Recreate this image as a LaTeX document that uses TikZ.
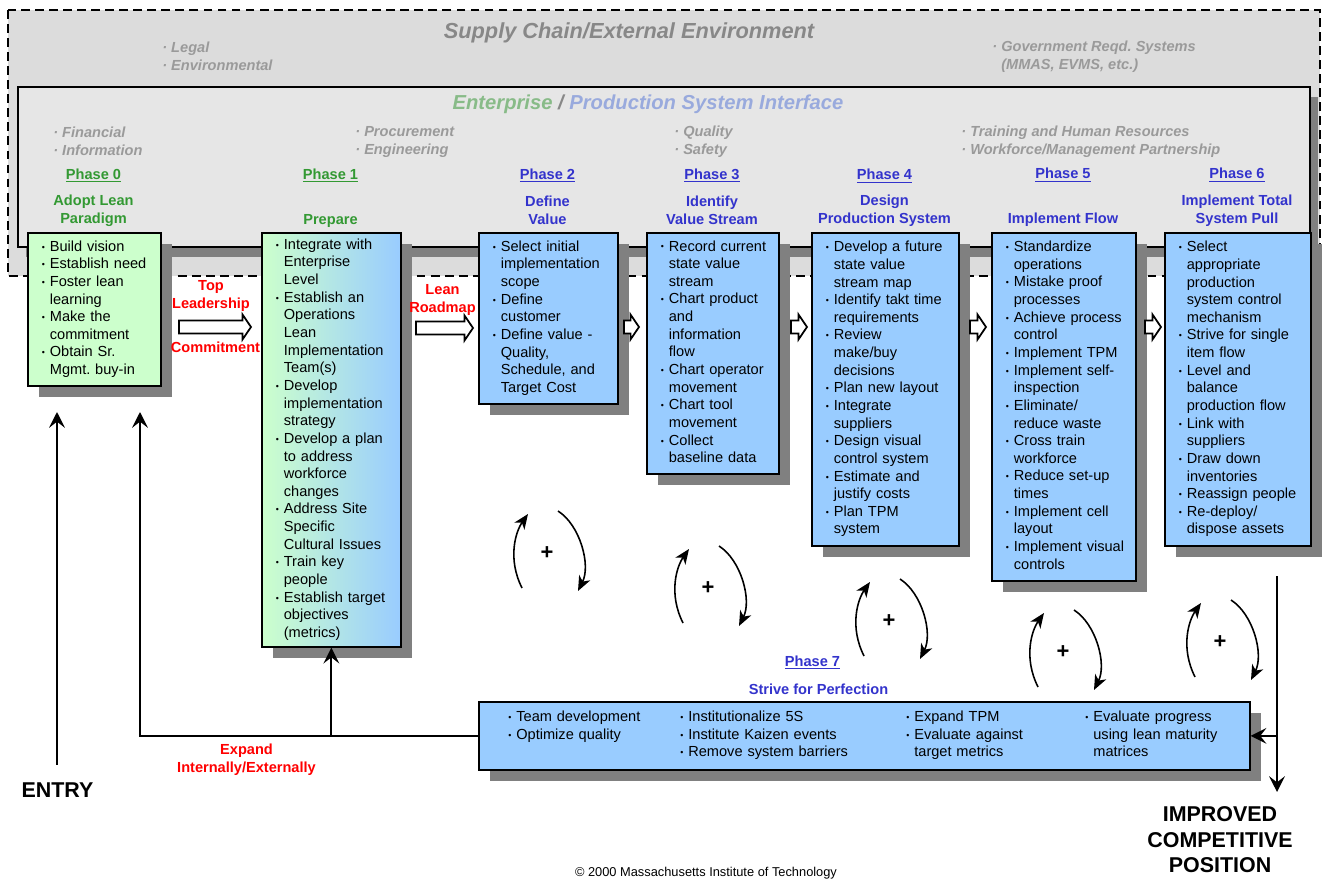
\documentclass[tikz,border=0pt]{standalone}
\usepackage{fontspec}
\setmainfont{Liberation Sans}
\usetikzlibrary{arrows.meta, calc, shadows}
\frenchspacing

\definecolor{boxblue}{HTML}{99CCFF}
\definecolor{boxgreen}{HTML}{CCFFCC}
\definecolor{shadegray}{HTML}{808080}
\definecolor{outergray}{HTML}{DCDCDC}
\definecolor{innergray}{HTML}{E6E6E6}
\definecolor{phgreen}{HTML}{339933}
\definecolor{phblue}{HTML}{3333CC}
\definecolor{envgray}{HTML}{9A9A9A}
\definecolor{titlegray}{HTML}{888888}
\definecolor{entgreen}{HTML}{88BB88}
\definecolor{prodblue}{HTML}{99AADD}

% one bullet line, continuation lines split with \\
\newcommand{\bitem}[1]{\noindent\makebox[0.36cm][l]{\hspace{0.2cm}\raisebox{0.6pt}{\fontsize{5}{5}\selectfont•}}\begin{tabular}[t]{@{}l@{}}#1\end{tabular}\par}

\newcommand{\hollowarrow}[3]{%
	\draw[line width=1pt, fill=white] (#1,#3-6.5) -- (#2-8.5,#3-6.5) -- (#2-8.5,#3-12.5) -- (#2,#3)
	-- (#2-8.5,#3+12.5) -- (#2-8.5,#3+6.5) -- (#1,#3+6.5) -- cycle;}

\newcommand{\loopplus}[3]{%
	\node[plussign] (#1) at (#2,#3) {+};
	\draw[cycarrow] ($(#1)+(-25,35)$) .. controls ($(#1)+(-40,5)$) and ($(#1)+(-31,-22)$) .. ($(#1)+(-19,-39)$);
	\draw[cycarrow] ($(#1)+(11,-42)$) .. controls ($(#1)+(33,-28)$) and ($(#1)+(44,12)$) .. ($(#1)+(31,38)$);}

\begin{document}
\begin{tikzpicture}[x=0.02cm, y=-0.02cm,
	every node/.style={inner sep=0pt},
	phasebox/.style={draw, line width=1pt, anchor=north west, align=left, inner xsep=0.08cm,
		fill=boxblue, font=\fontsize{8.3}{10.04}\selectfont\setlength\lineskip{0pt},
		drop shadow={fill=shadegray, opacity=1, shadow xshift=0.22cm, shadow yshift=-0.22cm}},
	coltxt/.style={anchor=north west, align=left, text width=3.6cm,
		font=\fontsize{8.3}{10.04}\selectfont\setlength\lineskip{0pt}},
	phasehd/.style={anchor=base, text=phblue, font=\fontsize{8.3}{10}\selectfont\bfseries},
	ttl/.style={align=center, text=phblue, font=\fontsize{8.3}{10.04}\selectfont\bfseries},
	envtxt/.style={anchor=west, align=left, text=envgray, font=\fontsize{8.3}{10.04}\selectfont\bfseries\itshape},
	headline/.style={anchor=base, font=\fontsize{12.4}{14}\selectfont\bfseries\itshape},
	redlbl/.style={align=center, text=red, font=\fontsize{8.3}{10.04}\selectfont\bfseries},
	bigtxt/.style={align=center, font=\fontsize{12.2}{14.6}\selectfont\bfseries},
	arr/.style={line width=1pt, -{Stealth[length=9pt, width=9pt, inset=3.5pt]}},
	cycarrow/.style={line width=0.9pt, -{Stealth[length=8.5pt, width=7pt, inset=2.5pt]}},
	plussign/.style={font=\fontsize{12.5}{12}\selectfont\bfseries}]
	
	\useasboundingbox (0,0) rectangle (1323,882);
	
	% environment frames
	\draw[line width=1pt, dash pattern=on 5pt off 3pt, fill=outergray] (8,10) rectangle (1320,276);
	\fill[shadegray] (26,97) rectangle (1318,257);
	\draw[line width=1pt, fill=innergray] (18,87) rectangle (1310,247);
	
	\node[headline, text=titlegray] (supply) at (629,38.5) {Supply Chain/External Environment};
	\node[headline, font=\fontsize{11.5}{14}\selectfont\bfseries\itshape] (ent) at (648,109.3) {\textcolor{entgreen}{Enterprise} \textcolor{titlegray}{/} \textcolor{prodblue}{Production System Interface}};
	
	\node[envtxt] (legal) at (162,56) {· Legal\\· Environmental};
	\node[envtxt] (gov) at (992,57) {· Government Reqd. Systems\\\phantom{·}\ (MMAS, EVMS, etc.)};
	\node[envtxt] (fin) at (53,141) {· Financial\\· Information};
	\node[envtxt] (proc) at (355,142) {· Procurement\\· Engineering};
	\node[envtxt] (qual) at (674,142) {· Quality\\· Safety};
	\node[envtxt] (train) at (961,142) {· Training and Human Resources\\· Workforce/Management Partnership};
	
	% phase headings
	\node[phasehd, text=phgreen] (h0) at (93.5,179) {\underline{Phase 0}};
	\node[phasehd, text=phgreen] (h1) at (330.5,179) {\underline{Phase 1}};
	\node[phasehd] (h2) at (547.5,179) {\underline{Phase 2}};
	\node[phasehd] (h3) at (712,179) {\underline{Phase 3}};
	\node[phasehd] (h4) at (884.5,180) {\underline{Phase 4}};
	\node[phasehd] (h5) at (1063,178.5) {\underline{Phase 5}};
	\node[phasehd] (h6) at (1237,178.5) {\underline{Phase 6}};
	
	\node[ttl, text=phgreen] (t0) at (93.5,211) {Adopt Lean\\Paradigm};
	\node[ttl, text=phgreen, anchor=base] (t1) at (330.5,224) {Prepare};
	\node[ttl] (t2) at (547.5,210.5) {Define\\Value};
	\node[ttl] (t3) at (712,210.5) {Identify\\Value Stream};
	\node[ttl] (t4) at (884.5,211) {Design\\Production System};
	\node[ttl, anchor=base] (t5) at (1063,223) {Implement Flow};
	\node[ttl] (t6) at (1237,210.5) {Implement Total\\System Pull};
	
	% phase boxes
	\node[phasebox, fill=boxgreen, text width=2.50cm, minimum height=3.06cm] (p0) at (27,232) {%
		\bitem{Build vision}
		\bitem{Establish need}
		\bitem{Foster lean\\learning}
		\bitem{Make the\\commitment}
		\bitem{Obtain Sr.\\Mgmt. buy-in}};
	\node[phasebox, left color=boxgreen, right color=boxblue, text width=2.62cm, minimum height=8.28cm] (p1) at (261,232) {%
		\bitem{Integrate with\\Enterprise\\Level}
		\bitem{Establish an\\Operations\\Lean\\Implementation\\Team(s)}
		\bitem{Develop\\implementation\\strategy}
		\bitem{Develop a plan\\to address\\workforce\\changes}
		\bitem{Address Site\\Specific\\Cultural Issues}
		\bitem{Train key\\people}
		\bitem{Establish target\\objectives\\(metrics)}};
	\node[phasebox, text width=2.62cm, minimum height=3.42cm] (p2) at (478,232) {%
		\bitem{Select initial\\implementation\\scope}
		\bitem{Define\\customer}
		\bitem{Define value -\\Quality,\\Schedule, and\\Target Cost}};
	\node[phasebox, text width=2.48cm, minimum height=4.82cm] (p3) at (646,232) {%
		\bitem{Record current\\state value\\stream}
		\bitem{Chart product\\and\\information\\flow}
		\bitem{Chart operator\\movement}
		\bitem{Chart tool\\movement}
		\bitem{Collect\\baseline data}};
	\node[phasebox, text width=2.78cm, minimum height=6.26cm] (p4) at (811,232) {%
		\bitem{Develop a future\\state value\\stream map}
		\bitem{Identify takt time\\requirements}
		\bitem{Review\\make/buy\\decisions}
		\bitem{Plan new layout}
		\bitem{Integrate\\suppliers}
		\bitem{Design visual\\control system}
		\bitem{Estimate and\\justify costs}
		\bitem{Plan TPM\\system}};
	\node[phasebox, text width=2.72cm, minimum height=6.96cm] (p5) at (991,232) {%
		\bitem{Standardize\\operations}
		\bitem{Mistake proof\\processes}
		\bitem{Achieve process\\control}
		\bitem{Implement TPM}
		\bitem{Implement self-\\inspection}
		\bitem{Eliminate/\\reduce waste}
		\bitem{Cross train\\workforce}
		\bitem{Reduce set-up\\times}
		\bitem{Implement cell\\layout}
		\bitem{Implement visual\\controls}};
	\node[phasebox, text width=2.76cm, minimum height=6.26cm] (p6) at (1164,232) {%
		\bitem{Select\\appropriate\\production\\system control\\mechanism}
		\bitem{Strive for single\\item flow}
		\bitem{Level and\\balance\\production flow}
		\bitem{Link with\\suppliers}
		\bitem{Draw down\\inventories}
		\bitem{Reassign people}
		\bitem{Re-deploy/\\dispose assets}};
	
	% phase 7
	\node[phasehd] (h7) at (812.5,666) {\underline{Phase 7}};
	\node[ttl, anchor=base] (t7) at (818.5,694) {Strive for Perfection};
	\node[phasebox, minimum width=15.42cm, minimum height=1.36cm] (p7) at (478,701) {};
	\node[coltxt] (p7a) at ($(p7.north west)+(20,8)$) {\bitem{Team development}\bitem{Optimize quality}};
	\node[coltxt] (p7b) at ($(p7.north west)+(192,8)$) {\bitem{Institutionalize 5S}\bitem{Institute Kaizen events}\bitem{Remove system barriers}};
	\node[coltxt] (p7c) at ($(p7.north west)+(418,8)$) {\bitem{Expand TPM}\bitem{Evaluate against\\target metrics}};
	\node[coltxt] (p7d) at ($(p7.north west)+(597,8)$) {\bitem{Evaluate progress\\using lean maturity\\matrices}};
	
	% block arrows between phases
	\hollowarrow{179}{251}{327}
	\hollowarrow{416}{473}{328}
	\hollowarrow{624}{639}{327}
	\hollowarrow{791}{807}{327}
	\hollowarrow{970}{986}{327}
	\hollowarrow{1145}{1161}{327}
	
	\node[redlbl] (toplead) at (211,295.8) {Top\\Leadership};
	\node[redlbl, anchor=base] (commit) at (215.5,352.3) {Commitment};
	\node[redlbl] (roadmap) at (442.5,300) {Lean\\Roadmap};
	\node[redlbl] (expand) at (246.5,760) {Expand\\Internally/Externally};
	
	% improvement loops
	\loopplus{c1}{547}{553}
	\loopplus{c2}{708}{588}
	\loopplus{c3}{889}{621}
	\loopplus{c4}{1063}{652}
	\loopplus{c5}{1220}{642}
	
	% entry and exit
	\node[bigtxt, anchor=base] (entry) at (57.5,797) {ENTRY};
	\coordinate (entrytop) at (57,412);
	\draw[arr] ($(entry.north)+(-0.5,-17)$) -- (entrytop);
	\coordinate (looptop) at (140,412);
	\draw[arr] (p7.west) -| (looptop);
	\draw[arr] (p7.west -| p1.south) -- (p1.south);
	
	\coordinate (outtop) at (1277,576);
	\coordinate (outbot) at (1277,792);
	\draw[arr] (outtop) -- (outbot);
	\draw[arr] (outtop |- p7.east) -- (p7.east);
	\node[bigtxt] (improved) at (1220,839.7) {IMPROVED\\COMPETITIVE\\POSITION};
	
	\node[anchor=base, font=\fontsize{7.3}{8}\selectfont] (copy) at (706,876.7) {© 2000 Massachusetts Institute of Technology};
	
\end{tikzpicture}
\end{document}
